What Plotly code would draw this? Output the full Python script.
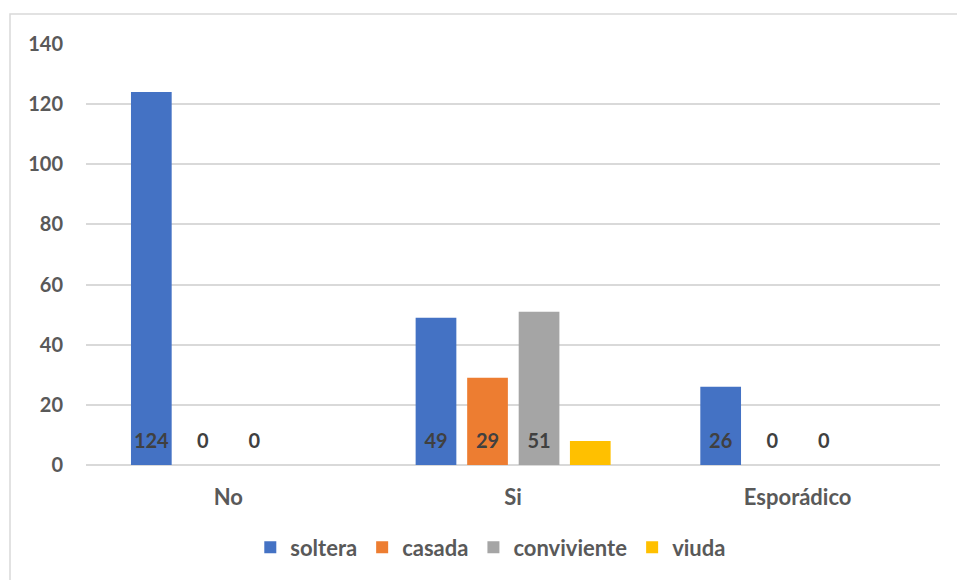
import plotly.graph_objects as go

categories = ["No", "Si", "Esporádico"]
series_names = ["soltera", "casada", "conviviente", "viuda"]
soltera = [124, 49, 26]
casada = [0, 29, 0]
conviviente = [0, 51, 0]
viuda = [None, 8, None]
label_series = [True, True, True, False]

colors = ["#4472C4", "#ED7D31", "#A5A5A5", "#FFC000"]
values = [soltera, casada, conviviente, viuda]

bar_w = 0.143
offsets = [-0.342, -0.161, 0.020, 0.200]
xs = list(range(len(categories)))
FONT = "Lato"

fig = go.Figure()
for name, vals, col, off in zip(series_names, values, colors, offsets):
    fig.add_trace(go.Bar(
        x=xs, y=vals, name=name, marker=dict(color=col, line=dict(width=0)),
        width=bar_w, offset=off, hoverinfo="skip",
    ))

# data labels near base (Excel "inside base")
for vals, off, show in zip(values, offsets, label_series):
    if not show:
        continue
    lx = [x + off + bar_w / 2 for x, v in zip(xs, vals) if v is not None]
    lt = [str(v) for v in vals if v is not None]
    fig.add_trace(go.Scatter(
        x=lx, y=[7.3] * len(lx), mode="text", text=lt,
        textfont=dict(family=FONT, size=20, color="#404040", weight="bold"),
        showlegend=False, hoverinfo="skip",
    ))

fig.update_layout(
    barmode="overlay",
    width=957, height=580,
    margin=dict(l=86, r=17, t=44, b=113),
    paper_bgcolor="white", plot_bgcolor="white",
    font=dict(family=FONT, size=20, color="#595959", weight="bold"),
    xaxis=dict(
        range=[-0.5, 2.5], tickvals=xs, ticktext=categories,
        showgrid=False, zeroline=False, showline=False, ticks="",
        ticklabelstandoff=17,
        tickfont=dict(family=FONT, size=22, color="#595959", weight="bold"),
    ),
    yaxis=dict(
        range=[0, 140], tickvals=list(range(0, 141, 20)),
        showgrid=True, gridcolor="#D9D9D9", gridwidth=1.5,
        zeroline=True, zerolinecolor="#D9D9D9", zerolinewidth=1.5,
        showline=False, ticks="", ticklabelstandoff=22,
        tickfont=dict(family=FONT, size=20, color="#595959", weight="bold"),
    ),
    legend=dict(
        orientation="h", x=0.474, xanchor="center", y=-0.196, yanchor="middle",
        font=dict(family=FONT, size=22, color="#595959", weight="bold"),
        itemwidth=30, traceorder="normal",
    ),
    shapes=[dict(
        type="rect", xref="paper", yref="paper",
        x0=-0.089, x1=1.06, y0=-0.3, y1=1.071,
        line=dict(color="#D9D9D9", width=1.5), fillcolor="rgba(0,0,0,0)", layer="below",
    )],
    showlegend=True,
)

fig.write_html(
    "out.html",
    config={"displayModeBar": False},
    post_script="document.body.style.margin='0';document.body.style.overflow='hidden';document.documentElement.style.overflow='hidden';",
)
